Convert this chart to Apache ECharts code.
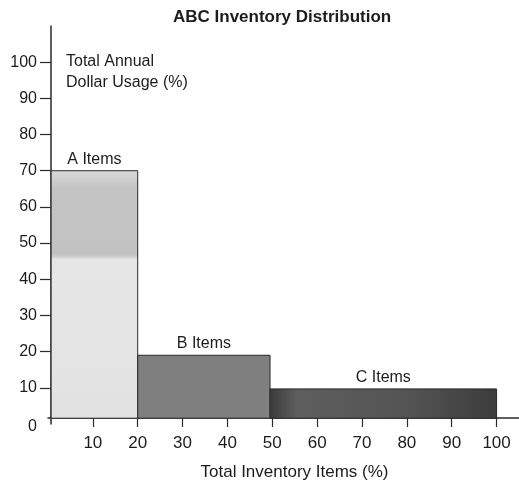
<!DOCTYPE html>
<html>
<head>
<meta charset="utf-8">
<script src="https://cdn.jsdelivr.net/npm/echarts@6/dist/echarts.min.js"></script>
<style>
  html, body { margin: 0; padding: 0; background: #ffffff; }
  #chart { width: 519px; height: 483px; }
</style>
</head>
<body>
<div id="chart"></div>
<script>
// ---- data ----
const categories = ['A Items', 'B Items', 'C Items'];
const itemShareStart = [0.7, 20, 49.5];   // Total Inventory Items (%) – left edge
const itemShareEnd = [20, 49.5, 100];     // Total Inventory Items (%) – right edge
const dollarUsage = [70, 19, 9.7];        // Total Annual Dollar Usage (%)
const barBottom = [1.6, 1.6, 1.6];        // drawn baseline of the blocks
const xTickValues = [10, 20, 30, 40, 50, 60, 70, 80, 90, 100];
const yLabelValues = [0, 10, 20, 30, 40, 50, 60, 70, 80, 90, 100];
const yTickValues = [10, 20, 30, 40, 50, 60, 70, 80, 90, 100];

const FONT = "'Liberation Sans', Arial, Helvetica, sans-serif";
const TXT = '#1c1c1c';

const fills = [
  { type: 'linear', x: 0, y: 0, x2: 0, y2: 1, colorStops: [
    { offset: 0, color: '#dadada' }, { offset: 0.07, color: '#c4c4c4' },
    { offset: 0.34, color: '#c2c2c2' }, { offset: 0.36, color: '#e6e6e6' },
    { offset: 1, color: '#e2e2e2' } ] },
  '#7f7f7f',
  { type: 'linear', x: 0, y: 0, x2: 1, y2: 0, colorStops: [
    { offset: 0, color: '#3a3a3a' }, { offset: 0.12, color: '#5e5e5e' },
    { offset: 0.6, color: '#545454' }, { offset: 1, color: '#3c3c3c' } ] }
];

const seriesData = categories.map((c, i) => [itemShareStart[i], itemShareEnd[i], dollarUsage[i], barBottom[i], c]);

const chart = echarts.init(document.getElementById('chart'), null, { renderer: 'canvas' });
chart.setOption({
  animation: false,
  backgroundColor: '#ffffff',
  title: {
    text: 'ABC Inventory Distribution',
    left: 173, top: 9, padding: 0,
    textStyle: { fontFamily: FONT, fontSize: 17, fontWeight: 'bold', color: TXT }
  },
  grid: { left: 48, right: 0, top: 26, bottom: 59, containLabel: false, outerBoundsMode: 'none' },
  xAxis: {
    type: 'value', min: 0, max: 105, offset: -6,
    name: 'Total Inventory Items (%)',
    nameLocation: 'middle', nameGap: 46,
    nameTextStyle: { fontFamily: FONT, fontSize: 17, color: TXT, padding: [0, 0, 0, 22] },
    axisLine: { onZero: false, lineStyle: { color: '#2a2a2a', width: 1.5 } },
    axisTick: { show: true, length: 9, customValues: xTickValues, lineStyle: { color: '#2a2a2a', width: 1.2 } },
    axisLabel: { customValues: xTickValues, margin: 17, fontFamily: FONT, fontSize: 17, color: TXT },
    splitLine: { show: false }
  },
  yAxis: {
    type: 'value', min: 0, max: 110, offset: -3,
    name: 'Total Annual\nDollar Usage (%)',
    nameLocation: 'end', nameGap: -25,
    nameTextStyle: { fontFamily: FONT, fontSize: 16, color: TXT, align: 'left', verticalAlign: 'top', lineHeight: 21, padding: [0, 0, 0, 15] },
    axisLine: { onZero: false, lineStyle: { color: '#2a2a2a', width: 1.5 } },
    axisTick: { show: true, length: 11, customValues: yTickValues, lineStyle: { color: '#2a2a2a', width: 1.2 } },
    axisLabel: {
      customValues: yLabelValues, margin: 14, fontFamily: FONT, fontSize: 16, color: TXT,
      formatter: v => (v === 0 ? '{z|0}' : String(v)),
      rich: { z: { fontFamily: FONT, fontSize: 16, color: TXT, padding: [6, 0, 0, 0] } }
    },
    splitLine: { show: false }
  },
  series: [{
    type: 'custom',
    data: seriesData,
    encode: { x: [0, 1], y: [2, 3] },
    renderItem: function (params, api) {
      const i = params.dataIndex;
      const p0 = api.coord([api.value(0), api.value(2)]);
      const p1 = api.coord([api.value(1), api.value(3)]);
      return {
        type: 'rect',
        shape: { x: p0[0], y: p0[1], width: p1[0] - p0[0], height: p1[1] - p0[1] },
        style: { fill: fills[i], stroke: '#2a2a2a', lineWidth: 1 },
        textContent: {
          style: { text: categories[i], fontFamily: FONT, fontSize: 16, fill: TXT }
        },
        textConfig: { position: 'top', distance: 3 }
      };
    }
  }]
});
</script>
</body>
</html>
